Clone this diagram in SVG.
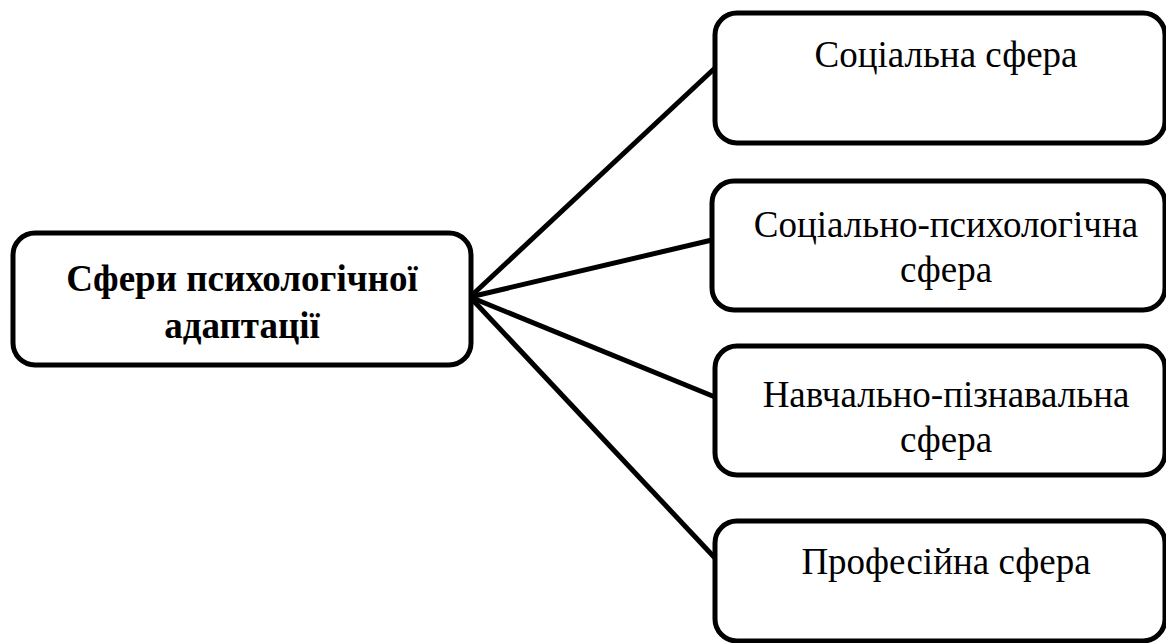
<svg xmlns="http://www.w3.org/2000/svg" width="1166" height="643" viewBox="0 0 1166 643">
<style>
.box{fill:#fff;stroke:#000;stroke-width:5}
.t{font-family:"Liberation Serif","Times New Roman",serif;font-size:37px;text-anchor:middle;fill:#000}
.b{font-weight:bold}
.c{stroke:#000;stroke-width:5;fill:none}
</style>
<rect width="1166" height="643" fill="#fff"/>
<g id="connectors">
<line class="c" x1="470" y1="297" x2="715" y2="68"/>
<line class="c" x1="470" y1="297" x2="712" y2="240"/>
<line class="c" x1="470" y1="297" x2="715" y2="397"/>
<line class="c" x1="470" y1="297" x2="715" y2="558"/>
</g>
<g id="main">
<rect class="box" x="13" y="233" width="458" height="132" rx="22"/>
<text class="t b" x="242" y="291">Сфери психологічної</text>
<text class="t b" x="242" y="338">адаптації</text>
</g>
<g id="n1">
<rect class="box" x="715" y="13" width="450" height="130" rx="22"/>
<text class="t" x="946" y="67">Соціальна сфера</text>
</g>
<g id="n2">
<rect class="box" x="712" y="181" width="453" height="129" rx="22"/>
<text class="t" x="946" y="237">Соціально-психологічна</text>
<text class="t" x="946" y="282">сфера</text>
</g>
<g id="n3">
<rect class="box" x="715" y="346" width="450" height="129" rx="22"/>
<text class="t" x="946" y="407">Навчально-пізнавальна</text>
<text class="t" x="946" y="452">сфера</text>
</g>
<g id="n4">
<rect class="box" x="715" y="521" width="450" height="120" rx="22"/>
<text class="t" x="946" y="574">Професійна сфера</text>
</g>
</svg>
